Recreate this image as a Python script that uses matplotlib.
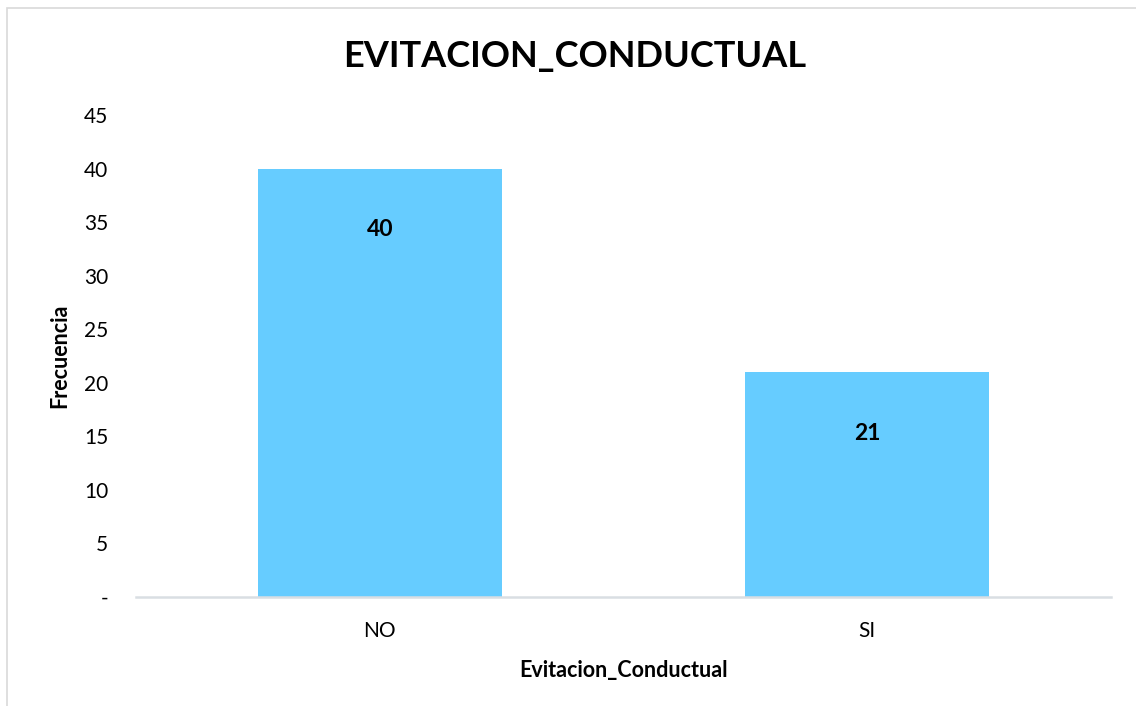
import matplotlib.pyplot as plt
from matplotlib.patches import Rectangle

plt.rcParams['font.family'] = ['Lato', 'DejaVu Sans']

categorias = ['NO', 'SI']
frecuencia = [40, 21]
y_ticks = [0, 5, 10, 15, 20, 25, 30, 35, 40, 45]
y_tick_labels = ['-', '5', '10', '15', '20', '25', '30', '35', '40', '45']

fig = plt.figure(figsize=(11.36, 7.06), dpi=100)
ax = fig.add_axes([136/1136, 1 - 597/706, 975/1136, (597 - 115)/706])

# marco del grafico
fig.patches.append(Rectangle((7/1136, -0.05), 1.05, 1.05 - 8/706, transform=fig.transFigure,
                             fill=False, edgecolor='#D9D9D9', linewidth=1.2))

x = range(len(categorias))
bars = ax.bar(x, frecuencia, width=0.5, color='#66CCFF')
ax.set_xlim(-0.5, 1.5)
ax.set_ylim(0, 45)

for b, v in zip(bars, frecuencia):
    ax.text(b.get_x() + b.get_width()/2, v - 5.7, str(v), ha='center', va='center',
            fontsize=16.5, fontweight='bold', color='black')

ax.set_yticks(y_ticks)
ax.set_yticklabels(y_tick_labels, fontsize=15)
ax.set_xticks(list(x))
ax.set_xticklabels(categorias, fontsize=15)
ax.tick_params(length=0, pad=20, axis='y')
ax.tick_params(length=0, pad=17, axis='x')

for s in ['top', 'right', 'left']:
    ax.spines[s].set_visible(False)
ax.spines['bottom'].set_color('#D9DEE3')
ax.spines['bottom'].set_linewidth(1.8)

ax.set_ylabel('Frecuencia', fontsize=15.5, fontweight='bold', labelpad=10)
ax.set_xlabel('Evitacion_Conductual', fontsize=15.5, fontweight='bold', labelpad=14)
fig.text(575/1136, 1 - 57/706, 'EVITACION_CONDUCTUAL', ha='center', va='center',
         fontsize=26, fontweight='bold')

plt.savefig('out.png', dpi=100)
